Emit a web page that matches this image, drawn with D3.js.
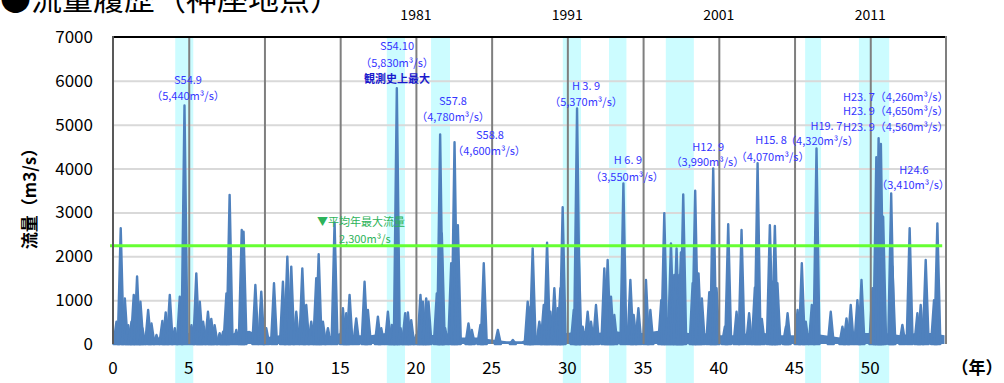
<!DOCTYPE html>
<html>
<head>
<meta charset="utf-8">
<script src="https://cdn.jsdelivr.net/npm/d3@7"></script>
<style>
  body { margin: 0; background: #fff; }
  text { font-family: "Noto Sans CJK JP", "Noto Sans", sans-serif; }
</style>
</head>
<body>
<div id="chart"></div>
<script>
// 洪水ピーク（経過年, 流量 m3/s）
const floodYears = [0.23, 0.51, 0.78, 1.00, 1.22, 1.37, 1.59, 1.81, 1.94, 2.32, 2.54, 2.87, 3.26, 3.48, 3.75, 4.08, 4.41, 4.72, 5.18, 5.50,
  5.73, 5.95, 6.27, 6.49, 6.71, 7.04, 7.27, 7.49, 7.70, 8.14, 8.50, 8.62, 9.40, 9.79, 10.12, 10.63, 11.22, 11.51, 11.77, 12.10,
  12.50, 12.76, 13.09, 13.42, 13.58, 13.86, 14.19, 14.63, 15.18, 15.40, 15.62, 16.06, 16.61, 16.83, 17.49, 17.71, 18.15, 18.41, 18.59, 18.74,
  18.99, 19.29, 19.47, 19.69, 20.02, 20.30, 20.46, 20.68, 20.83, 21.38, 21.60, 21.71, 21.93, 22.33, 22.55, 22.77, 23.47, 23.69, 24.26, 24.48,
  25.41, 26.40, 27.38, 27.56, 27.71, 28.15, 28.44, 28.66, 28.88, 29.14, 29.36, 29.54, 29.69, 30.42, 30.64, 30.73, 31.01, 31.34, 31.56, 31.89,
  32.44, 32.66, 32.88, 33.10, 33.70, 34.16, 34.38, 34.69, 35.19, 35.48, 36.20, 36.40, 36.62, 36.84, 37.06, 37.21, 37.39, 37.50, 37.65, 38.27,
  38.44, 38.66, 38.88, 39.37, 39.63, 39.85, 40.40, 40.62, 41.17, 41.50, 42.00, 42.38, 42.56, 42.84, 43.37, 43.55, 43.70, 43.87, 44.43, 44.54,
  45.20, 45.48, 45.74, 46.14, 46.45, 47.39, 48.16, 48.43, 48.71, 49.15, 49.42, 50.14, 50.40, 50.55, 50.70, 50.85, 51.38, 51.46, 52.12, 52.60,
  53.11, 53.33, 53.66, 54.21, 54.43]
const floodFlows = [510, 2640, 1040, 430, 510, 1120, 1540, 965, 360, 775, 470, 205, 525, 720, 1120, 360, 1080, 5440, 430, 1610,
  965, 510, 735, 570, 430, 245, 280, 1155, 3400, 320, 2600, 2560, 1345, 1195, 360, 1385, 1420, 1990, 1765, 735,
  1725, 890, 510, 1500, 2045, 510, 360, 2770, 815, 700, 1120, 585, 1420, 775, 625, 360, 735, 435, 510, 5830,
  360, 700, 720, 545, 205, 1120, 965, 1040, 965, 1155, 4780, 2520, 360, 1840, 4600, 2710, 470, 320, 435, 1840,
  320, 90, 965, 850, 2180, 510, 890, 2310, 735, 1270, 815, 1270, 3120, 775, 5370, 2295, 395, 735, 510, 890,
  1725, 1915, 1080, 660, 3660, 1460, 660, 815, 1460, 775, 1000, 2980, 585, 2295, 1575, 2180, 1575, 2090, 3410, 1385,
  3495, 1610, 1040, 1180, 4005, 1270, 395, 2730, 735, 2600, 700, 1285, 4120, 570, 2710, 1420, 2690, 1385, 395, 700,
  775, 1840, 510, 890, 4460, 735, 395, 585, 890, 1000, 1460, 1270, 4260, 4690, 4560, 2900, 3435, 1765, 435, 2640,
  700, 890, 1915, 1000, 2750]

// 平常時の流量
const baseYears = [0, 0.3, 1, 2, 3, 4, 5, 6, 7, 8, 9, 10, 11, 12, 13, 14, 15, 16, 17, 18, 19, 20, 21, 22, 23, 24, 25, 26, 27, 28,
  29, 30, 31, 32, 33, 34, 35, 36, 37, 38, 39, 40, 41, 42, 43, 44, 45, 46, 47, 48, 49, 50, 51, 52, 53, 54, 54.9]
const baseFlows = [300, 250, 250, 150, 150, 200, 250, 200, 120, 250, 300, 150, 200, 200, 200, 150, 250, 200, 200, 250, 250, 150, 200, 250, 150, 150, 100, 60, 60, 200,
  250, 250, 300, 250, 300, 250, 250, 300, 300, 250, 250, 200, 200, 250, 250, 200, 200, 250, 200, 150, 250, 250, 250, 200, 250, 250, 200]

// 大洪水の年（ハイライト範囲）
const bandStarts = [4.11, 18.08, 21.0, 29.7, 32.75, 36.5, 45.7, 49.25]
const bandEnds = [5.3, 19.28, 22.25, 30.9, 33.9, 38.35, 46.75, 51.25]

const xTicks = [0, 5, 10, 15, 20, 25, 30, 35, 40, 45, 50]
const yTicks = [0, 1000, 2000, 3000, 4000, 5000, 6000, 7000]
const calendarYears = ["1981", "1991", "2001", "2011"]
const calendarAt = [20, 30, 40, 50]
const meanAnnualMax = 2240

// 注記（経過年, 流量 の位置に置く）
const notes = [
    ["S54.9", 4.95, 6019], ["（5,440m³/s）", 4.95, 5654],
    ["S54.10", 18.75, 6794], ["（5,830m³/s）", 18.75, 6407],
    ["S57.8", 22.45, 5540], ["（4,780m³/s）", 22.45, 5176],
    ["S58.8", 24.89, 4765], ["（4,600m³/s）", 24.83, 4400],
    ["H 3. 9", 31.23, 5882], ["（5,370m³/s）", 31.23, 5518],
    ["H 6. 9", 34.0, 4195], ["（3,550m³/s）", 33.94, 3808],
    ["H12. 9", 39.3, 4492], ["（3,990m³/s）", 39.25, 4150],
    ["H15. 8", 43.45, 4651], ["（4,070m³/s）", 43.55, 4264],
    ["H19. 7", 47.1, 4970], ["（4,320m³/s）", 46.81, 4628],
    ["H23. 7（4,260m³/s）", 51.68, 5632], ["H23. 9（4,650m³/s）", 51.68, 5312],
    ["H23. 9（4,560m³/s）", 51.68, 4948],
    ["H24.6", 52.89, 3967], ["（3,410m³/s）", 52.82, 3625]
]

const W = 1004, H = 383
const blue = "#4f81bd"

const svg = d3.select("#chart").append("svg")
    .attr("width", W)
    .attr("height", H)

const x = d3.scaleLinear().domain([0, 55]).range([113, 946])
const y = d3.scaleLinear().domain([0, 7000]).range([344, 37])

// ハイライト帯
svg.append("g").selectAll("rect")
    .data(bandStarts.map((s, i) => [s, bandEnds[i]]))
    .join("rect")
    .attr("x", d => x(d[0]))
    .attr("width", d => x(d[1]) - x(d[0]))
    .attr("y", y(7000))
    .attr("height", H - y(7000))
    .attr("fill", "#ccfcff")

// 横の目盛線
svg.append("g")
    .attr("transform", "translate(" + x(0) + ",0)")
    .call(d3.axisLeft(y).tickValues(yTicks.slice(1, -1)).tickSize(-(x(55) - x(0))).tickFormat(""))
    .call(g => g.select(".domain").remove())
    .call(g => g.selectAll("line").attr("stroke", "#d9d9d9").attr("stroke-width", 2))

// 平常流量
const base = baseYears.map((t, i) => ({ t: t, v: baseFlows[i] }))
svg.append("path")
    .datum(base)
    .attr("fill", blue)
    .attr("d", d3.area().x(d => x(d.t)).y0(y(0)).y1(d => y(d.v)))

// 洪水ピーク
const floods = floodYears.map((t, i) => ({ t: t, v: floodFlows[i] }))
svg.append("g").selectAll("path")
    .data(floods)
    .join("path")
    .attr("d", d => "M" + (x(d.t) - 3) + "," + y(0) + "L" + x(d.t) + "," + y(d.v) + "L" + (x(d.t) + 3) + "," + y(0) + "Z")
    .attr("fill", blue)
    .attr("stroke", blue)
    .attr("stroke-width", 2.4)
    .attr("stroke-linejoin", "round")

// 縦の目盛線
svg.append("g")
    .attr("transform", "translate(0," + y(0) + ")")
    .call(d3.axisBottom(x).tickValues(xTicks.slice(1)).tickSize(-(y(0) - y(7000))).tickFormat(""))
    .call(g => g.select(".domain").remove())
    .call(g => g.selectAll("line").attr("stroke", "#7f7f7f").attr("stroke-width", 2))

// 平均年最大流量
svg.append("line")
    .attr("x1", x(0) - 3).attr("x2", x(54.75))
    .attr("y1", y(meanAnnualMax)).attr("y2", y(meanAnnualMax))
    .attr("stroke", "#66ff33")
    .attr("stroke-width", 3)

// 枠
svg.append("line").attr("x1", x(0)).attr("x2", x(55)).attr("y1", y(7000)).attr("y2", y(7000))
    .attr("stroke", "#000").attr("stroke-width", 2)
svg.append("line").attr("x1", x(0)).attr("x2", x(0)).attr("y1", y(7000) - 1).attr("y2", y(0))
    .attr("stroke", "#595959").attr("stroke-width", 2)
svg.append("line").attr("x1", x(55)).attr("x2", x(55)).attr("y1", y(7000) - 1).attr("y2", y(0))
    .attr("stroke", "#7f7f7f").attr("stroke-width", 2)

// 目盛ラベル
svg.append("g").selectAll("text")
    .data(yTicks)
    .join("text")
    .attr("x", 93)
    .attr("y", d => y(d))
    .attr("dy", "0.35em")
    .attr("text-anchor", "end")
    .attr("font-size", 17)
    .attr("fill", "#000")
    .text(d => d)

svg.append("g").selectAll("text")
    .data(xTicks)
    .join("text")
    .attr("x", d => x(d))
    .attr("y", 368)
    .attr("dy", "0.35em")
    .attr("text-anchor", "middle")
    .attr("font-size", 17)
    .attr("fill", "#000")
    .text(d => d)

svg.append("text")
    .attr("x", 977).attr("y", 368).attr("dy", "0.35em")
    .attr("text-anchor", "middle")
    .attr("font-size", 17)
    .attr("font-weight", "bold")
    .text("（年）")

svg.append("g").selectAll("text")
    .data(calendarYears)
    .join("text")
    .attr("x", (d, i) => x(calendarAt[i]))
    .attr("y", 15)
    .attr("dy", "0.35em")
    .attr("text-anchor", "middle")
    .attr("font-size", 14)
    .text(d => d)

// 軸タイトル
svg.append("text")
    .attr("transform", "translate(30," + (y(3500) + 4) + ") rotate(-90)")
    .attr("dy", "0.35em")
    .attr("text-anchor", "middle")
    .attr("font-size", 17)
    .attr("font-weight", "bold")
    .text("流量（m3/s）")

// タイトル
svg.append("text")
    .attr("x", 0).attr("y", 10)
    .attr("font-size", 31)
    .text("●流量履歴（神座地点）")

// 注記
svg.append("g").selectAll("text")
    .data(notes)
    .join("text")
    .attr("x", d => x(d[1]))
    .attr("y", d => y(d[2]))
    .attr("dy", "0.35em")
    .attr("text-anchor", "middle")
    .attr("font-size", 11)
    .attr("fill", "#3535ff")
    .text(d => d[0])

svg.append("text")
    .attr("x", x(18.75)).attr("y", y(6042)).attr("dy", "0.35em")
    .attr("text-anchor", "middle")
    .attr("font-size", 11)
    .attr("font-weight", "bold")
    .attr("fill", "#1a1acc")
    .text("観測史上最大")

svg.append("text")
    .attr("x", x(13.47)).attr("y", y(2782)).attr("dy", "0.35em")
    .attr("font-size", 11)
    .attr("fill", "#2db35a")
    .text("▼平均年最大流量")
svg.append("text")
    .attr("x", x(14.92)).attr("y", y(2394)).attr("dy", "0.35em")
    .attr("font-size", 11)
    .attr("fill", "#2db35a")
    .text("2,300m³/s")
</script>
</body>
</html>
